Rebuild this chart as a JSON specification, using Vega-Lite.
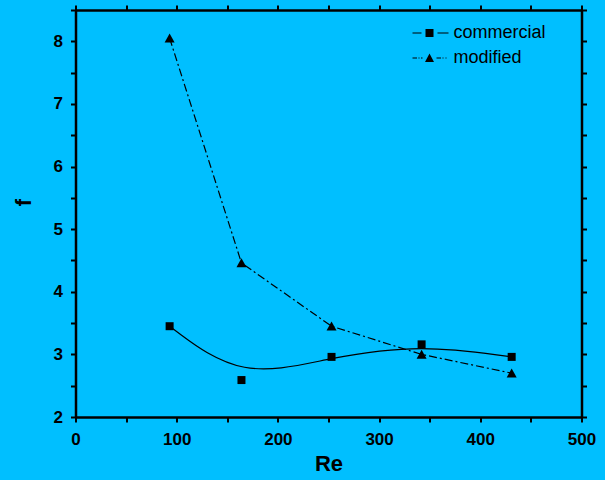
{
  "$schema": "https://vega.github.io/schema/vega-lite/v6.json",
  "width": 506,
  "height": 407,
  "autosize": "none",
  "padding": {"left": 75.5, "top": 10, "right": 23.5, "bottom": 63},
  "background": "#00BFFF",
  "config": {
    "view": {"stroke": null},
    "axis": {
      "domainColor": "black", "domainWidth": 2.5, "tickColor": "black", "tickWidth": 2,
      "labelColor": "black", "labelFont": "Liberation Sans", "labelFontWeight": "bold", "labelFontSize": 17,
      "titleColor": "black", "titleFont": "Liberation Sans", "titleFontWeight": "bold", "titleFontSize": 22,
      "grid": false, "labelOverlap": false, "labelFlush": false
    }
  },
  "data": {"values": [
    {"series": "commercial", "Re": 93, "f": 3.45},
    {"series": "commercial", "Re": 164, "f": 2.59},
    {"series": "commercial", "Re": 253, "f": 2.96},
    {"series": "commercial", "Re": 342, "f": 3.16},
    {"series": "commercial", "Re": 431, "f": 2.96},
    {"series": "modified", "Re": 93, "f": 8.05},
    {"series": "modified", "Re": 164, "f": 4.46},
    {"series": "modified", "Re": 253, "f": 3.45},
    {"series": "modified", "Re": 342, "f": 3.0},
    {"series": "modified", "Re": 431, "f": 2.7}
  ]},
  "layer": [
    {
      "transform": [{"filter": "datum.series === 'commercial'"}],
      "mark": {"type": "line", "interpolate": "basis", "color": "black", "strokeWidth": 1.2},
      "encoding": {
        "x": {"field": "Re", "type": "quantitative", "scale": {"domain": [0, 500], "nice": false, "zero": false},
          "axis": {"title": "Re", "titlePadding": 6, "values": [0,50,100,150,200,250,300,350,400,450,500], "format": "d",
            "labelExpr": "datum.value % 100 === 0 ? datum.label : ''", "labelPadding": 9,
            "encode": {"ticks": {"update": {"y2": {"signal": "datum.value % 100 === 0 ? 7 : 3.5"}}}}}},
        "y": {"field": "f", "type": "quantitative", "scale": {"domain": [2, 8.5], "nice": false, "zero": false},
          "axis": {"title": "f", "titlePadding": 18, "titleY": 192, "values": [2,2.5,3,3.5,4,4.5,5,5.5,6,6.5,7,7.5,8,8.5], "format": ".0f",
            "labelExpr": "datum.value % 1 === 0 ? datum.label : ''", "labelPadding": 8,
            "encode": {"ticks": {"update": {"x2": {"signal": "datum.value % 1 === 0 ? -7 : -3.5"}}}}}}
      }
    },
    {
      "transform": [{"filter": "datum.series === 'modified'"}],
      "mark": {"type": "line", "color": "black", "strokeWidth": 1.2, "strokeDash": [8, 3, 2, 3]},
      "encoding": {
        "x": {"field": "Re", "type": "quantitative", "axis": null},
        "y": {"field": "f", "type": "quantitative", "axis": null}
      }
    },
    {
      "transform": [{"filter": "datum.series === 'commercial'"}],
      "mark": {"type": "point", "filled": true, "color": "black", "opacity": 1, "size": 100, "shape": "M-0.8,-0.8H0.8V0.8H-0.8Z"},
      "encoding": {
        "x": {"field": "Re", "type": "quantitative", "axis": null},
        "y": {"field": "f", "type": "quantitative", "axis": null}
      }
    },
    {
      "transform": [{"filter": "datum.series === 'modified'"}],
      "mark": {"type": "point", "filled": true, "color": "black", "opacity": 1, "size": 100, "shape": "M-1,0.85L0,-0.95L1,0.85Z"},
      "encoding": {
        "x": {"field": "Re", "type": "quantitative", "axis": null},
        "y": {"field": "f", "type": "quantitative", "axis": null}
      }
    },
    {
      "mark": {"type": "point", "filled": true, "color": "black", "opacity": 0, "size": 100},
      "encoding": {
        "x": {"field": "Re", "type": "quantitative",
          "axis": {"orient": "top", "title": null, "labels": false, "values": [0,50,100,150,200,250,300,350,400,450,500],
            "encode": {"ticks": {"update": {"y2": {"signal": "datum.value % 100 === 0 ? 7 : 3.5"}}}}}},
        "y": {"field": "f", "type": "quantitative",
          "axis": {"orient": "right", "title": null, "labels": false, "values": [2,2.5,3,3.5,4,4.5,5,5.5,6,6.5,7,7.5,8,8.5],
            "encode": {"ticks": {"update": {"x2": {"signal": "datum.value % 1 === 0 ? -7 : -3.5"}}}}}},
        "shape": {"field": "series", "type": "nominal",
          "scale": {"domain": ["commercial", "modified"], "range": [
            "M-3.4,-0.11H-1.6V0.11H-3.4ZM-0.8,-0.8H0.8V0.8H-0.8ZM1.6,-0.11H3.8V0.11H1.6Z",
            "M-3.4,-0.11H-2.5V0.11H-3.4ZM-2.2,-0.11H-2V0.11H-2.2ZM-1.7,-0.11H-1.4V0.11H-1.7ZM-0.9,0.8L0,-0.9L0.9,0.8ZM1.4,-0.11H2.3V0.11H1.4ZM2.6,-0.11H2.8V0.11H2.6ZM3.2,-0.11H3.4V0.11H3.2Z"]},
          "legend": {"orient": "none", "legendX": 345, "legendY": 14, "title": null,
            "symbolSize": 100, "labelFontSize": 18, "labelFont": "Liberation Sans", "labelColor": "black",
            "labelOffset": 15, "rowPadding": 7, "symbolOpacity": 1,
            "symbolFillColor": "black", "symbolStrokeColor": "black", "symbolStrokeWidth": 0,
            "encode": {"symbols": {"update": {"fill": {"value": "black"}, "opacity": {"value": 1}}}}}}
      }
    }
  ],
  "resolve": {"axis": {"x": "independent", "y": "independent"}}
}
